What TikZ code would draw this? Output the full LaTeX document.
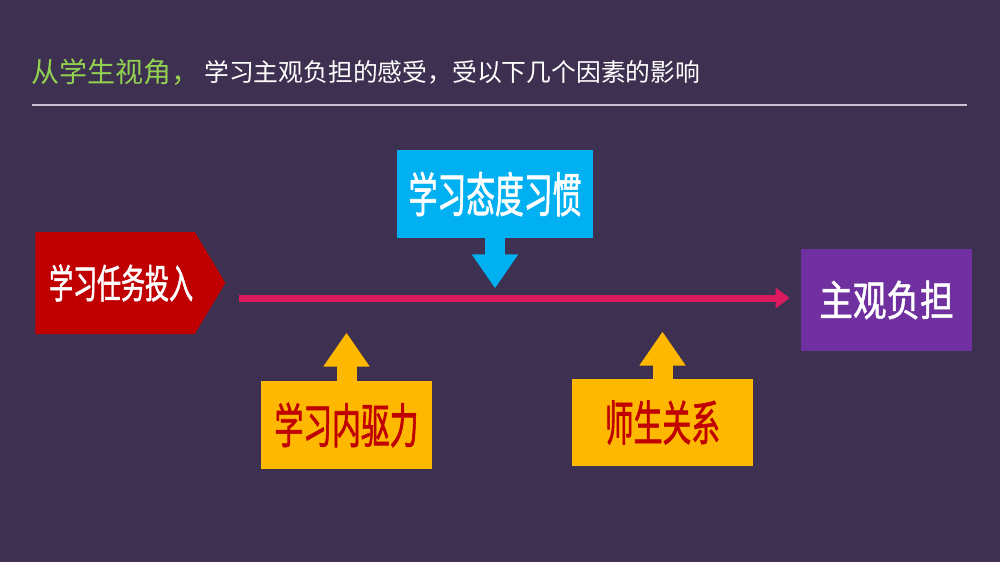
\documentclass[tikz,border=0pt]{standalone}
\usepackage{fontspec}
\setmainfont{Noto Sans CJK SC}
\newfontfamily\boxfont[FakeStretch=0.6,FakeBold=1.2]{Noto Sans CJK SC}
\newfontfamily\burdenfont[FakeStretch=0.8,FakeBold=1.2]{Noto Sans CJK SC}
\usetikzlibrary{arrows.meta,shapes.symbols}

\definecolor{bgpurple}{HTML}{3E3050}
\definecolor{headgreen}{HTML}{92D050}
\definecolor{ruleline}{HTML}{C9C1D3}
\definecolor{taskred}{HTML}{C00000}
\definecolor{habitblue}{HTML}{00B0F0}
\definecolor{factoryellow}{HTML}{FFB800}
\definecolor{burdenpurple}{HTML}{7030A0}
\definecolor{flowpink}{HTML}{DA1A5C}

\begin{document}
\begin{tikzpicture}[x=0.5pt,y=-0.5pt,
  every node/.style={inner sep=0pt},
  factor/.style={minimum width=#1, font=\boxfont\fontsize{24}{24}\selectfont},
  callout/.style={draw=#1, line width=10pt, -{Triangle[length=17pt,width=22pt]}},
  flowline/.style={draw=flowpink, line width=3.5pt, -{Triangle[length=7pt,width=10pt]}}]
  \fill[bgpurple] (0,0) rectangle (1000,562);

  % heading
  \node[anchor=west, text=headgreen, font=\fontsize{14}{14}\selectfont] (head) at (31,72) {从学生视角，};
  \node[anchor=west, text=white, font=\fontsize{12.4}{12.4}\selectfont] (headrest) at ([xshift=2pt]head.east) {学习主观负担的感受，受以下几个因素的影响};
  \draw[ruleline, line width=0.6pt] (32,105) -- (967,105);

  % factors
  \node[shape=signal, signal to=east, signal pointer angle=118, fill=taskred, text=white,
        minimum width=95pt, minimum height=51pt, anchor=west,
        font=\boxfont\fontsize{20}{20}\selectfont] (task) at (35,283) {\hspace*{6pt}学习任务投入};
  \node[factor=98pt, minimum height=44pt, fill=habitblue, text=white] (habit) at (495,194) {学习态度习惯};
  \node[factor=85.5pt, minimum height=44pt, fill=factoryellow, text=taskred] (drive) at (346.5,425) {学习内驱力};
  \node[factor=90.5pt, minimum height=43.5pt, fill=factoryellow, text=taskred] (relation) at (662.5,422.5) {师生关系};
  \node[minimum width=85.5pt, minimum height=51pt, fill=burdenpurple, text=white,
        font=\burdenfont\fontsize{21}{21}\selectfont] (burden) at (886.5,300) {主观负担};

  \coordinate (lstart) at (239,298);
  \draw[flowline, shorten >=5.5pt] (lstart) -- (burden.west |- lstart);
  \path (habit.south) edge[callout=habitblue] ++(0,50)
        (drive.north) edge[callout=factoryellow] ++(0,-48)
        (relation.north) edge[callout=factoryellow] ++(0,-47);
\end{tikzpicture}
\end{document}
